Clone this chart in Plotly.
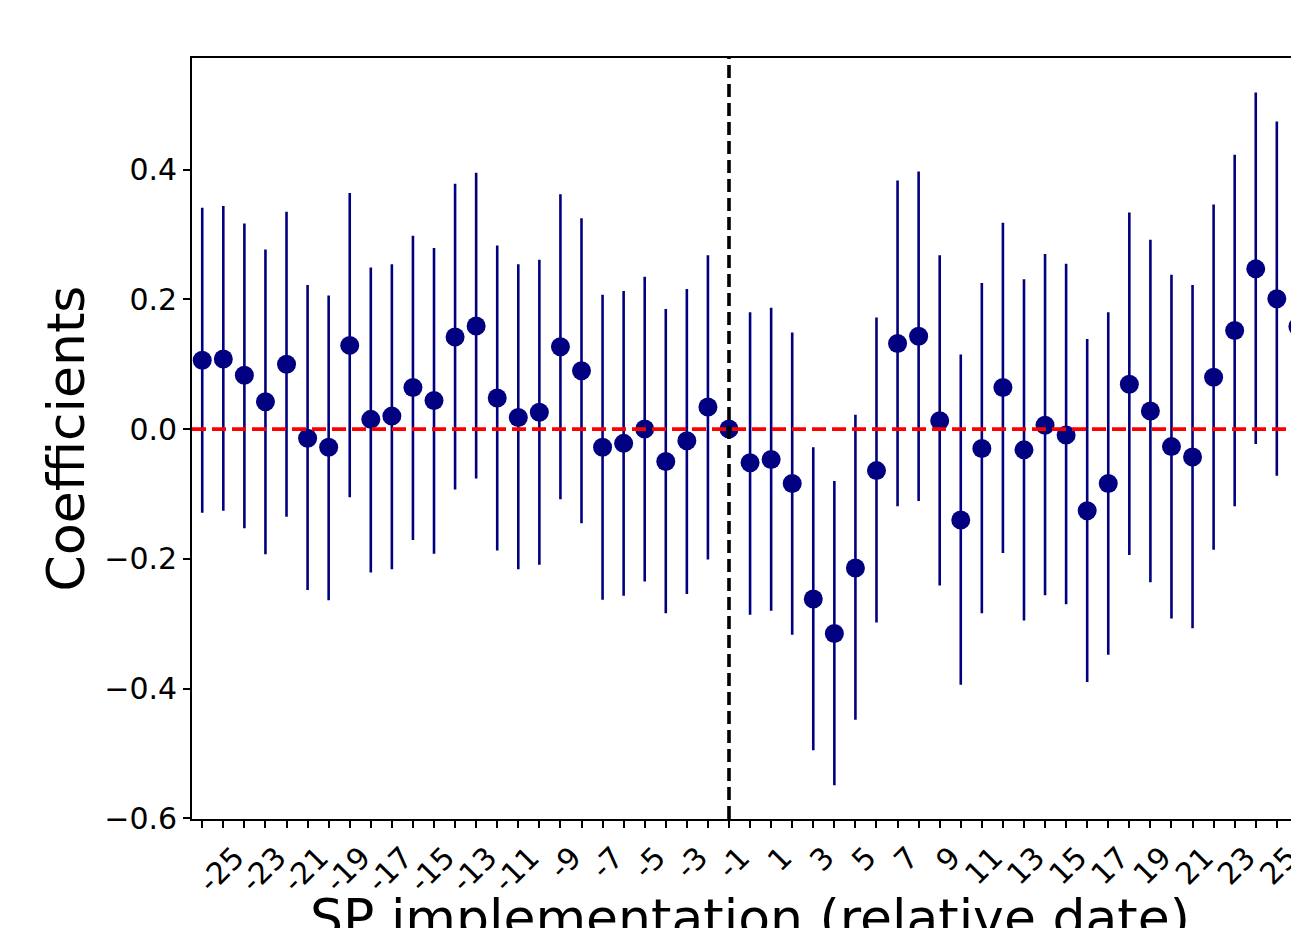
import plotly.graph_objects as go

# relative dates (event time)
dates = list(range(-26, 27))

coef = [0.106, 0.108, 0.083, 0.042, 0.100, -0.014, -0.028, 0.129, 0.015, 0.020,
        0.064, 0.044, 0.142, 0.159, 0.048, 0.018, 0.026, 0.127, 0.090, -0.028,
        -0.022, 0.000, -0.050, -0.018, 0.034, 0.000,
        -0.052, -0.047, -0.084, -0.262, -0.315, -0.214, -0.064, 0.132, 0.143, 0.013,
        -0.140, -0.030, 0.064, -0.032, 0.006, -0.009, -0.126, -0.084, 0.069, 0.028,
        -0.027, -0.043, 0.080, 0.152, 0.247, 0.201, 0.158]

ci_upper = [0.341, 0.344, 0.317, 0.277, 0.335, 0.222, 0.206, 0.364, 0.249, 0.254,
            0.298, 0.279, 0.378, 0.395, 0.283, 0.254, 0.261, 0.362, 0.325, 0.207,
            0.213, 0.235, 0.185, 0.216, 0.268, 0.000,
            0.180, 0.187, 0.149, -0.028, -0.080, 0.022, 0.172, 0.383, 0.397, 0.268,
            0.115, 0.225, 0.318, 0.231, 0.270, 0.255, 0.139, 0.180, 0.334, 0.292,
            0.238, 0.222, 0.346, 0.423, 0.519, 0.474, 0.393]

ci_lower = [-0.129, -0.126, -0.153, -0.193, -0.135, -0.248, -0.264, -0.105, -0.221, -0.216,
            -0.171, -0.192, -0.093, -0.076, -0.187, -0.216, -0.209, -0.108, -0.145, -0.263,
            -0.257, -0.235, -0.284, -0.254, -0.201, 0.000,
            -0.286, -0.280, -0.317, -0.495, -0.549, -0.448, -0.298, -0.119, -0.111, -0.241,
            -0.394, -0.284, -0.191, -0.295, -0.256, -0.270, -0.390, -0.348, -0.194, -0.236,
            -0.292, -0.307, -0.186, -0.119, -0.023, -0.072, -0.077]

tick_values = list(range(-26, 26))
tick_labels = ["", "-25", "", "-23", "", "-21", "", "-19", "", "-17", "", "-15", "",
               "-13", "", "-11", "", "-9", "", "-7", "", "-5", "", "-3", "", "-1",
               "", "1", "", "3", "", "5", "", "7", "", "9", "", "11", "", "13", "",
               "15", "", "17", "", "19", "", "21", "", "23", "", "25"]

y_ticks = [-0.6, -0.4, -0.2, 0.0, 0.2, 0.4]

x_title = "SP implementation (relative date)"
y_title = "Coefficients"

err_plus = [u - c for u, c in zip(ci_upper, coef)]
err_minus = [c - l for c, l in zip(coef, ci_lower)]

FONT = "DejaVu Sans"
NAVY = "#000080"

fig = go.Figure()
fig.add_trace(go.Scatter(
    x=dates, y=coef, mode="markers",
    marker=dict(color=NAVY, size=19, line=dict(width=0)),
    error_y=dict(type="data", symmetric=False, array=err_plus, arrayminus=err_minus,
                 color=NAVY, thickness=2.6, width=0),
    showlegend=False,
))

fig.add_shape(type="line", xref="paper", yref="y", x0=0, x1=1, y0=0, y1=0,
              line=dict(color="#ff0000", width=3.6, dash="14px,6px"), layer="above")
fig.add_shape(type="line", xref="x", yref="paper", x0=-1, x1=-1, y0=0, y1=1,
              line=dict(color="black", width=3.6, dash="13px,6px"), layer="above")

# x-axis title (centred on the full, partly cropped axes; its lower half falls off the page)
fig.add_annotation(text=x_title, xref="x", yref="paper", x=0, y=-0.130,
                   xanchor="center", yanchor="middle", showarrow=False,
                   font=dict(size=52, family=FONT, color="black"))

fig.update_layout(
    template="none",
    width=1291, height=928,
    margin=dict(l=192, r=0, t=58, b=109, pad=0),
    paper_bgcolor="white", plot_bgcolor="white",
    font=dict(family=FONT, color="black"),
    xaxis=dict(
        range=[-26.486, 25.673],
        tickmode="array", tickvals=tick_values, ticktext=tick_labels,
        tickangle=-45, tickfont=dict(size=30, family=FONT),
        ticks="outside", ticklen=7, tickwidth=1.5, tickcolor="black",
        ticklabelshift=12, ticklabeloverflow="allow",
        showline=True, linecolor="black", linewidth=1.6, mirror=True,
        showgrid=False, zeroline=False, automargin=False,
    ),
    yaxis=dict(
        range=[-0.601, 0.572],
        tickmode="array", tickvals=y_ticks, tickformat=".1f",
        tickfont=dict(size=30, family=FONT),
        ticks="outside", ticklen=7, tickwidth=1.5, tickcolor="black",
        showline=True, linecolor="black", linewidth=1.6, mirror=False,
        showgrid=False, zeroline=False, automargin=False,
        title=dict(text=y_title, font=dict(size=52, family=FONT), standoff=3),
    ),
)

fig.write_html("out.html", config={"displayModeBar": False},
               post_script="document.body.style.margin='0';document.body.style.overflow='hidden';")
